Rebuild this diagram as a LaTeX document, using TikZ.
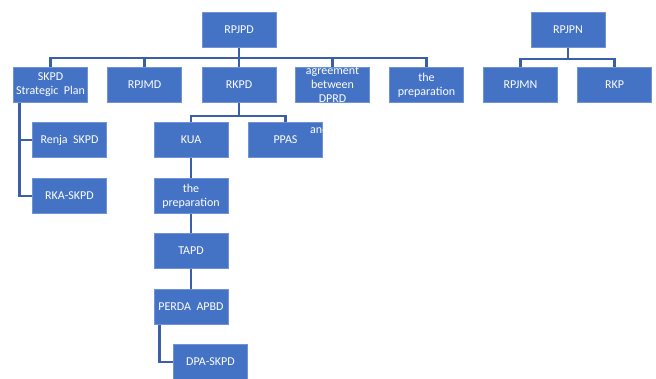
\documentclass[tikz,border=0pt]{standalone}
\usepackage{fontspec}
\setmainfont{Carlito}
\usetikzlibrary{backgrounds}
\definecolor{boxfill}{HTML}{4472C4}
\definecolor{boxborder}{HTML}{6F93D4}
\definecolor{linecol}{HTML}{3B5FA6}
\tikzset{
  box/.style={draw=boxborder, fill=boxfill, line width=0.8pt, text=white,
    font=\fontsize{12}{14}\selectfont, align=center,
    minimum width=74pt, minimum height=35pt, inner sep=0pt},
  conn/.style={draw=linecol, line width=2.8pt},
  ghost/.style={text=white, font=\fontsize{12}{14}\selectfont, inner sep=0pt}
}
\begin{document}
\begin{tikzpicture}[x=1pt,y=-1pt]
\useasboundingbox (0,0) rectangle (656,378);
\node[box] (rpjpd) at (239,29.5) {RPJPD};
\node[box] (skpd) at (50.5,85) {SKPD\\Strategic~ Plan};
\node[box] (rpjmd) at (144.5,85) {RPJMD};
\node[box] (rkpd) at (239,85) {RKPD};
\node[box] (agree) at (332.5,85) {agreement\\between\\DPRD};
\node[box] (prep1) at (426.5,85) {the\\preparation};
\node[box] (rpjpn) at (568,29.5) {RPJPN};
\node[box] (rpjmn) at (520.5,85) {RPJMN};
\node[box] (rkp) at (614.5,85) {RKP};
\node[box] (kua) at (191,140) {KUA};
\node[box] (ppas) at (285.5,140) {PPAS};
\node[box] (renja) at (69.5,140) {Renja~ SKPD};
\node[box] (rka) at (69.5,196) {RKA-SKPD};
\node[box] (prep2) at (191,196) {the\\preparation};
\node[box] (tapd) at (191,251) {TAPD};
\node[box] (perda) at (191,307) {PERDA~ APBD};
\node[box] (dpa) at (210.5,362) {DPA-SKPD};
\node[ghost, anchor=west] (andtxt) at (310,129) {and};
\coordinate (b1) at (239,58);
\coordinate (b2) at (568,59);
\coordinate (b3) at (239,116);
\coordinate (sk) at ([xshift=6pt]skpd.south west);
\coordinate (pd) at ([xshift=6pt]perda.south west);
\begin{scope}[on background layer]
\draw[conn] (rpjpd.south) -- (b1);
\draw[conn] (skpd.north) |- (b1) -| (prep1.north);
\draw[conn] (rpjmd.north) -- (rpjmd.north |- b1);
\draw[conn] (rkpd.north) -- (rkpd.north |- b1);
\draw[conn] (agree.north) -- (agree.north |- b1);
\draw[conn] (rpjpn.south) -- (b2);
\draw[conn] (rpjmn.north) |- (b2) -| (rkp.north);
\draw[conn] (rkpd.south) -- (b3);
\draw[conn] (kua.north) |- (b3) -| (ppas.north);
\draw[conn] (sk) |- (renja.west);
\draw[conn] (sk) |- (rka.west);
\draw[conn] (kua.south) -- (prep2.north);
\draw[conn] (prep2.south) -- (tapd.north);
\draw[conn] (tapd.south) -- (perda.north);
\draw[conn] (pd) |- (dpa.west);
\end{scope}
\end{tikzpicture}
\end{document}
